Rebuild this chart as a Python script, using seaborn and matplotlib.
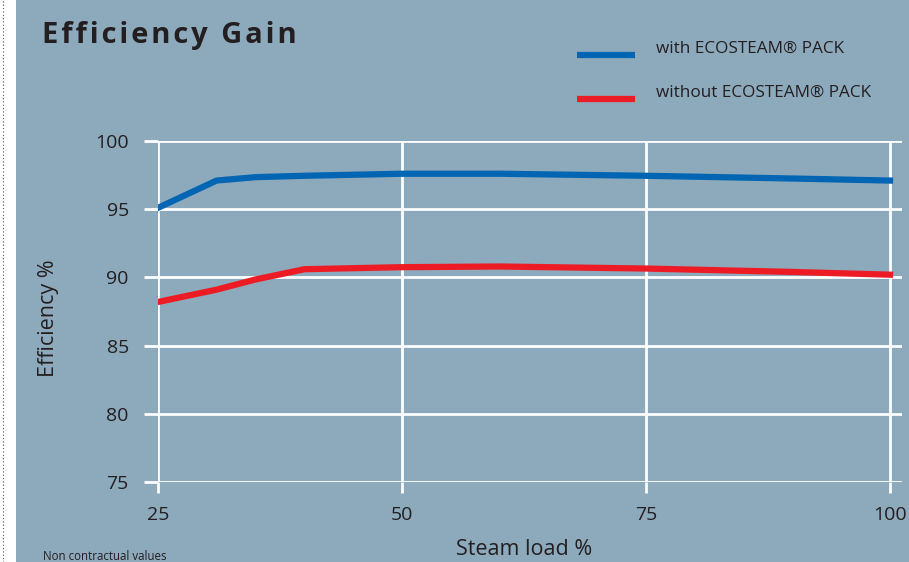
import matplotlib
matplotlib.use("Agg")
import matplotlib.pyplot as plt
from matplotlib.patches import Rectangle
from matplotlib.lines import Line2D
from matplotlib.transforms import Affine2D
import pandas as pd
import seaborn as sns

# values
steam_load = [25, 31, 35, 40, 50, 60, 75, 90, 100]
eff_with = [95.1, 97.1, 97.35, 97.45, 97.6, 97.6, 97.45, 97.25, 97.1]
eff_without = [88.2, 89.1, 89.85, 90.6, 90.75, 90.8, 90.65, 90.4, 90.2]
series_names = ["with ECOSTEAM® PACK", "without ECOSTEAM® PACK"]
x_ticks = [25, 50, 75, 100]
y_ticks = [75, 80, 85, 90, 95, 100]

bg = "#8da9bc"
txt = "#231f20"
colors = {series_names[0]: "#0066b3", series_names[1]: "#ed1c24"}

df = pd.DataFrame({
    "Steam load %": steam_load * 2,
    "Efficiency %": eff_with + eff_without,
    "series": [series_names[0]] * len(steam_load) + [series_names[1]] * len(steam_load),
})

plt.rcParams['font.family'] = ['Open Sans', 'DejaVu Sans']

fig = plt.figure(figsize=(9.09, 5.62), dpi=100, facecolor=bg)
# white strip with dotted rule at the left
fig.patches.append(Rectangle((0, 0), 16 / 909, 1, transform=fig.transFigure,
                             facecolor="white", edgecolor="none"))
fig.add_artist(Line2D([2.5 / 909, 2.5 / 909], [0, 1], transform=fig.transFigure,
                      color="#555555", lw=0.8, ls=(0, (1, 2))))

ax = fig.add_axes([158 / 909, 1 - 482 / 562, (901.7 - 158) / 909, (482 - 141) / 562])
ax.set_facecolor("none")

sns.lineplot(data=df, x="Steam load %", y="Efficiency %", hue="series",
             palette=colors, linewidth=4.5, ax=ax, legend=True, zorder=3)

ax.set_xlim(25, 101.2)
ax.set_ylim(75, 100)
ax.set_xticks(x_ticks)
ax.set_yticks(y_ticks)
ax.grid(True, color="white", linewidth=2)
ax.set_axisbelow(True)
for s in ax.spines.values():
    s.set_visible(False)
ax.tick_params(axis="y", length=10, width=2, color="white", pad=11,
               labelsize=14, labelcolor=txt)
ax.tick_params(axis="x", length=8, width=2, color="white", pad=9,
               labelsize=14, labelcolor=txt)

ax.set_xlabel("Steam load %", fontsize=15.5, color=txt)
ax.set_ylabel("Efficiency %", fontsize=15.5, color=txt)
ax.xaxis.set_label_coords(0.492, -0.168)
ax.yaxis.set_label_coords(-0.133, 0.48)

handles, labels = ax.get_legend_handles_labels()
ax.legend_.remove()
leg = fig.legend(handles, labels, loc="upper left", bbox_to_anchor=(577 / 909, 1 - 41 / 562),
                 frameon=False, fontsize=12.3, handlelength=3.4, handletextpad=1.2,
                 labelspacing=1.62, borderpad=0, borderaxespad=0, labelcolor=txt)
# the key lines sit a little below the label text in the original
for h in leg.legend_handles:
    h.set_solid_capstyle("butt")
    h.set_transform(h.get_transform() + Affine2D().translate(0, -8))

title = "\u200a".join("Efficiency Gain")
fig.text(42 / 909, 1 - 36 / 562, title, fontsize=21, fontweight="bold",
         color=txt, va="center", ha="left")
fig.text(43 / 909, 1 - 550 / 562, "Non contractual values", fontsize=8.3,
         color=txt, va="top", ha="left")

fig.savefig("out.png", dpi=100, facecolor=fig.get_facecolor())
